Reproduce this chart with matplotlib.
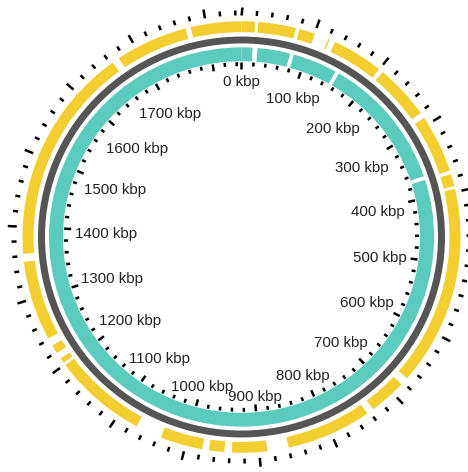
import numpy as np
import matplotlib
matplotlib.use("Agg")
import matplotlib.pyplot as plt
from matplotlib.transforms import offset_copy

plt.rcParams['font.family'] = ['Liberation Sans', 'DejaVu Sans']

genome_len = 1848  # kbp

# feature blocks on the outer (forward) track, kbp
fwd_blocks = [
    (0, 18.5), (22.6, 74), (79, 100.6), (120, 122), (130, 200), (206, 282),
    (290, 370), (375, 392), (396, 672), (683, 734), (744, 860), (889, 937),
    (947, 968), (977, 1035), (1071, 1199), (1203, 1210), (1219, 1231),
    (1242, 1352), (1363, 1663), (1673, 1772), (1779, 1848),
]
# feature blocks on the inner (reverse) track, kbp
rev_blocks = [
    (0, 17), (24.6, 75), (81, 150), (156, 366), (372, 1848),
]

tick_step = 20
label_step = 100
label_last = 1700

r_max = 240
fwd_in, fwd_out = 208, 219
ring_in, ring_out = 196.5, 203.5
rev_in, rev_out = 178.5, 192.5
in_tick_out, in_tick_minor, in_tick_major = 177.5, 173.5, 170.5
out_tick_in, out_tick_minor, out_tick_major = 225, 230, 234
label_r = 167


def to_theta(kbp):
    return 2 * np.pi * np.asarray(kbp, dtype=float) / genome_len


def draw_blocks(ax, blocks, r0, r1, color):
    starts = to_theta([b[0] for b in blocks])
    ends = to_theta([b[1] for b in blocks])
    ax.bar((starts + ends) / 2, r1 - r0, width=ends - starts, bottom=r0,
           color=color, linewidth=0, align='center')


W, H = 468, 472
fig = plt.figure(figsize=(W / 100, H / 100), dpi=100)
cx, cy = 241.5, 237
squash = 0.985
ax = fig.add_axes([(cx - r_max) / W, 1 - (cy + r_max * squash) / H,
                   2 * r_max / W, 2 * r_max * squash / H], projection='polar')
ax.set_aspect('auto')
ax.set_theta_zero_location('N')
ax.set_theta_direction(-1)
ax.set_rlim(0, r_max)
ax.axis('off')

draw_blocks(ax, fwd_blocks, fwd_in, fwd_out, '#F2CE30')
draw_blocks(ax, rev_blocks, rev_in, rev_out, '#5ACBBC')
ax.bar(np.pi, ring_out - ring_in, width=2 * np.pi, bottom=ring_in,
       color='#555555', linewidth=0)

ticks = np.arange(0, genome_len, tick_step)
major = ticks % label_step == 0
th = to_theta(ticks)
ax.vlines(th[~major], in_tick_minor, in_tick_out, color='black', lw=1.8)
ax.vlines(th[major], in_tick_major, in_tick_out, color='black', lw=1.8)
ax.vlines(th[~major], out_tick_in, out_tick_minor, color='black', lw=1.8)
ax.vlines(th[major], out_tick_in, out_tick_major, color='black', lw=1.8)

# labels sit inside the inner ticks, nearest edge touching label_r
renderer = fig.canvas.get_renderer()
text_tr = offset_copy(ax.transData, fig=fig, x=0, y=-3.5, units='dots')
for pos in range(0, label_last + 1, label_step):
    t = to_theta(pos)
    txt = ax.text(t, label_r, f"{pos} kbp", fontsize=10.8, color='#222222',
                  ha='center', va='center', transform=text_tr)
    bb = txt.get_window_extent(renderer)
    w, h = bb.width, bb.height * 0.8
    shift = w / 2 * abs(np.sin(t)) + h / 2 * abs(np.cos(t))
    txt.set_position((t, label_r - shift))

fig.savefig('out.png', dpi=100)
